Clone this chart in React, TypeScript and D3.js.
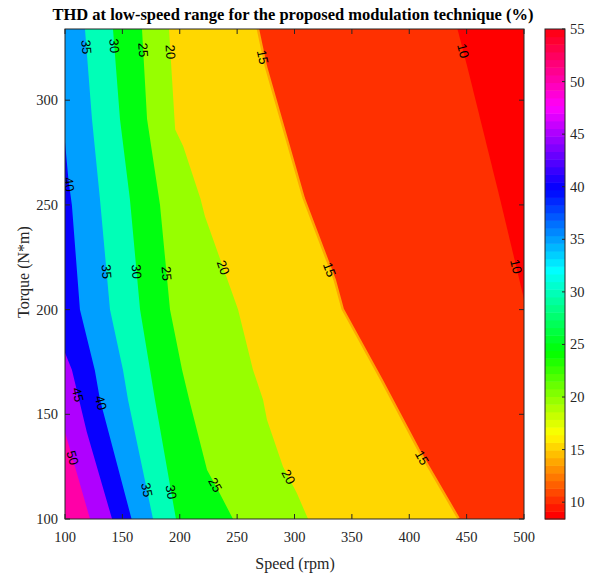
import React from 'react';
import * as d3 from 'd3';

const title = 'THD at low-speed range for the proposed modulation technique (%)';
const xLabel = 'Speed (rpm)';
const yLabel = 'Torque (N*m)';
const xTicks = [100, 150, 200, 250, 300, 350, 400, 450, 500];
const yTicks = [100, 150, 200, 250, 300];
const cbTicks = [10, 15, 20, 25, 30, 35, 40, 45, 50, 55];
const speedDomain = [100, 500];
const torqueDomain = [100, 334];
const thdDomain = [8.4, 55];

// Contour lines (speed rpm, torque N*m), top to bottom
const line10 = [[442, 334], [451, 315], [479, 253], [500, 205]];
const line15 = [[267, 334], [274, 316], [307, 253], [334, 214], [341, 200], [375, 166], [407, 133], [442, 100]];
const line20 = [[190.6, 334], [196, 286], [203, 278], [218, 253], [222, 244.5], [250.8, 200], [263.8, 171.3], [272.6, 157], [276, 147.4], [290, 125], [302, 112.4], [311.8, 100]];
const line25 = [[167.1, 334], [171.5, 291], [182.8, 250], [191.5, 200], [202, 171.3], [208.9, 155.5], [223.8, 123.4], [233.3, 113.9], [246.4, 100]];
const line30 = [[141.8, 334], [147.9, 291], [156.6, 252.6], [165.4, 200], [174.1, 171.3], [178.4, 157], [196.7, 100]];
const line35 = [[117.4, 334], [123.5, 291], [130.5, 252.6], [139.2, 200], [150.5, 171.3], [154.9, 157], [176.7, 100]];
const line40 = [[100, 280], [103, 262], [106, 250], [113, 200], [126, 171], [130.5, 157], [158, 100]];
const line45 = [[100, 179.4], [106, 171.3], [119, 141.6], [141, 100]];
const line50 = [[100, 141.6], [121.8, 100]];

const levels = [10, 15, 20, 25, 30, 35, 40, 45, 50];
const contourLines = [line10, line15, line20, line25, line30, line35, line40, line45, line50];
// torque values where the contour labels sit
const labelTorques = [
  [323.5, 220.6],
  [320.6, 219.1, 129.2],
  [323, 220.1, 120.1],
  [324, 217.2, 116.3],
  [325.9, 218.2, 112.9],
  [325.4, 218.2, 113.9],
  [259.8, 155.5],
  [159.3],
  [129.2],
];

const M = 64;
function hsvColor(i: number) {
  const h6 = (i / M) * 6;
  const s = Math.floor(h6) % 6;
  const f = h6 - Math.floor(h6);
  let r = 0, g = 0, b = 0;
  if (s === 0) { r = 1; g = f; b = 0; }
  else if (s === 1) { r = 1 - f; g = 1; b = 0; }
  else if (s === 2) { r = 0; g = 1; b = f; }
  else if (s === 3) { r = 0; g = 1 - f; b = 1; }
  else if (s === 4) { r = f; g = 0; b = 1; }
  else { r = 1; g = 0; b = 1 - f; }
  return d3.rgb(r * 255, g * 255, b * 255).formatHex();
}
function levelColor(v: number) {
  const idx = Math.max(0, Math.min(M - 1, Math.floor(((v - thdDomain[0]) / (thdDomain[1] - thdDomain[0])) * M)));
  return hsvColor(idx);
}

const W = 599, H = 576;
const plot = { left: 65, right: 524, top: 29, bottom: 519 };
const cb = { left: 545, right: 565 };
const serif = '"Liberation Serif", "Times New Roman", serif';
const sans = '"Liberation Sans", Arial, sans-serif';
const axisColor = '#262626';

export default function App() {
  const x = d3.scaleLinear().domain(speedDomain).range([plot.left, plot.right]);
  const y = d3.scaleLinear().domain(torqueDomain).range([plot.bottom, plot.top]);
  const cy = d3.scaleLinear().domain(thdDomain).range([plot.bottom, plot.top]);
  const lineGen = d3.line<number[]>().x(d => x(d[0])).y(d => y(d[1]));

  const polys = contourLines.map((pts) => {
    const p = pts.slice();
    const last = pts[pts.length - 1];
    if (last[0] >= speedDomain[1]) p.push([speedDomain[1], torqueDomain[0]]);
    p.push([speedDomain[0], torqueDomain[0]]);
    p.push([speedDomain[0], torqueDomain[1]]);
    return lineGen(p) + 'Z';
  });

  function pointAt(pts: number[][], t: number) {
    for (let i = 0; i < pts.length - 1; i++) {
      const a = pts[i], b = pts[i + 1];
      if ((t <= a[1] && t >= b[1])) {
        const f = (a[1] - t) / (a[1] - b[1] || 1);
        const s = a[0] + f * (b[0] - a[0]);
        const dx = x(b[0]) - x(a[0]);
        const dy = y(b[1]) - y(a[1]);
        return { px: x(s), py: y(t), ang: (Math.atan2(dy, dx) * 180) / Math.PI };
      }
    }
    return null;
  }

  const cbRects = d3.range(M).map(i => {
    const v0 = thdDomain[0] + (i / M) * (thdDomain[1] - thdDomain[0]);
    const v1 = thdDomain[0] + ((i + 1) / M) * (thdDomain[1] - thdDomain[0]);
    return { y0: cy(v1), y1: cy(v0), c: hsvColor(i) };
  });

  return (
    <svg width={W} height={H} style={{ position: 'absolute', left: 0, top: 0, background: '#fff' }}>
      <defs>
        <clipPath id="plotclip">
          <rect x={plot.left} y={plot.top} width={plot.right - plot.left} height={plot.bottom - plot.top} />
        </clipPath>
      </defs>
      <text x={293} y={20} textAnchor="middle" fontFamily={serif} fontWeight="bold" fontSize={16.5} fill="#000">{title}</text>
      <g clipPath="url(#plotclip)">
        <rect x={plot.left} y={plot.top} width={plot.right - plot.left} height={plot.bottom - plot.top} fill={levelColor(thdDomain[0])} />
        {polys.map((d, i) => (
          <g key={i}>
            {levels[i] === 15 && (
              <path d={lineGen(contourLines[i]) || ''} fill="none" stroke={hsvColor(7)} strokeWidth={5} />
            )}
            <path d={d} fill={levelColor(levels[i])} stroke="none" />
          </g>
        ))}
        {contourLines.map((pts, i) =>
          labelTorques[i].map((t, j) => {
            const p = pointAt(pts, t);
            if (!p) return null;
            return (
              <text key={`${i}-${j}`} x={p.px} y={p.py} transform={`rotate(${p.ang},${p.px},${p.py})`}
                textAnchor="middle" dominantBaseline="central" fontFamily={sans} fontSize={13} fill="#000">
                {levels[i]}
              </text>
            );
          })
        )}
      </g>
      {/* axes box */}
      <rect x={plot.left} y={plot.top} width={plot.right - plot.left} height={plot.bottom - plot.top} fill="none" stroke={axisColor} strokeWidth={1} />
      {xTicks.map(t => (
        <g key={'x' + t}>
          <line x1={x(t)} x2={x(t)} y1={plot.bottom} y2={plot.bottom - 5} stroke={axisColor} />
          <line x1={x(t)} x2={x(t)} y1={plot.top} y2={plot.top + 5} stroke={axisColor} />
          <text x={x(t)} y={542} textAnchor="middle" fontFamily={serif} fontSize={14.5} fill="#262626">{t}</text>
        </g>
      ))}
      {yTicks.map(t => (
        <g key={'y' + t}>
          <line x1={plot.left} x2={plot.left + 5} y1={y(t)} y2={y(t)} stroke={axisColor} />
          <line x1={plot.right} x2={plot.right - 5} y1={y(t)} y2={y(t)} stroke={axisColor} />
          <text x={58} y={y(t)} textAnchor="end" dominantBaseline="central" fontFamily={serif} fontSize={14.5} fill="#262626">{t}</text>
        </g>
      ))}
      <text x={295} y={569} textAnchor="middle" fontFamily={serif} fontSize={16} fill="#262626">{xLabel}</text>
      <text x={0} y={0} transform={`translate(23,272) rotate(-90)`} textAnchor="middle" dominantBaseline="central" fontFamily={serif} fontSize={16} fill="#262626">{yLabel}</text>
      {/* colorbar */}
      {cbRects.map((r, i) => (
        <rect key={i} x={cb.left} y={r.y0} width={cb.right - cb.left} height={r.y1 - r.y0 + 0.5} fill={r.c} />
      ))}
      <rect x={cb.left} y={plot.top} width={cb.right - cb.left} height={plot.bottom - plot.top} fill="none" stroke={axisColor} strokeWidth={1} />
      {cbTicks.map(t => (
        <g key={'c' + t}>
          <line x1={cb.right} x2={cb.right - 3} y1={cy(t)} y2={cy(t)} stroke={axisColor} />
          <text x={570} y={cy(t)} dominantBaseline="central" fontFamily={serif} fontSize={14.5} fill="#262626">{t}</text>
        </g>
      ))}
    </svg>
  );
}
